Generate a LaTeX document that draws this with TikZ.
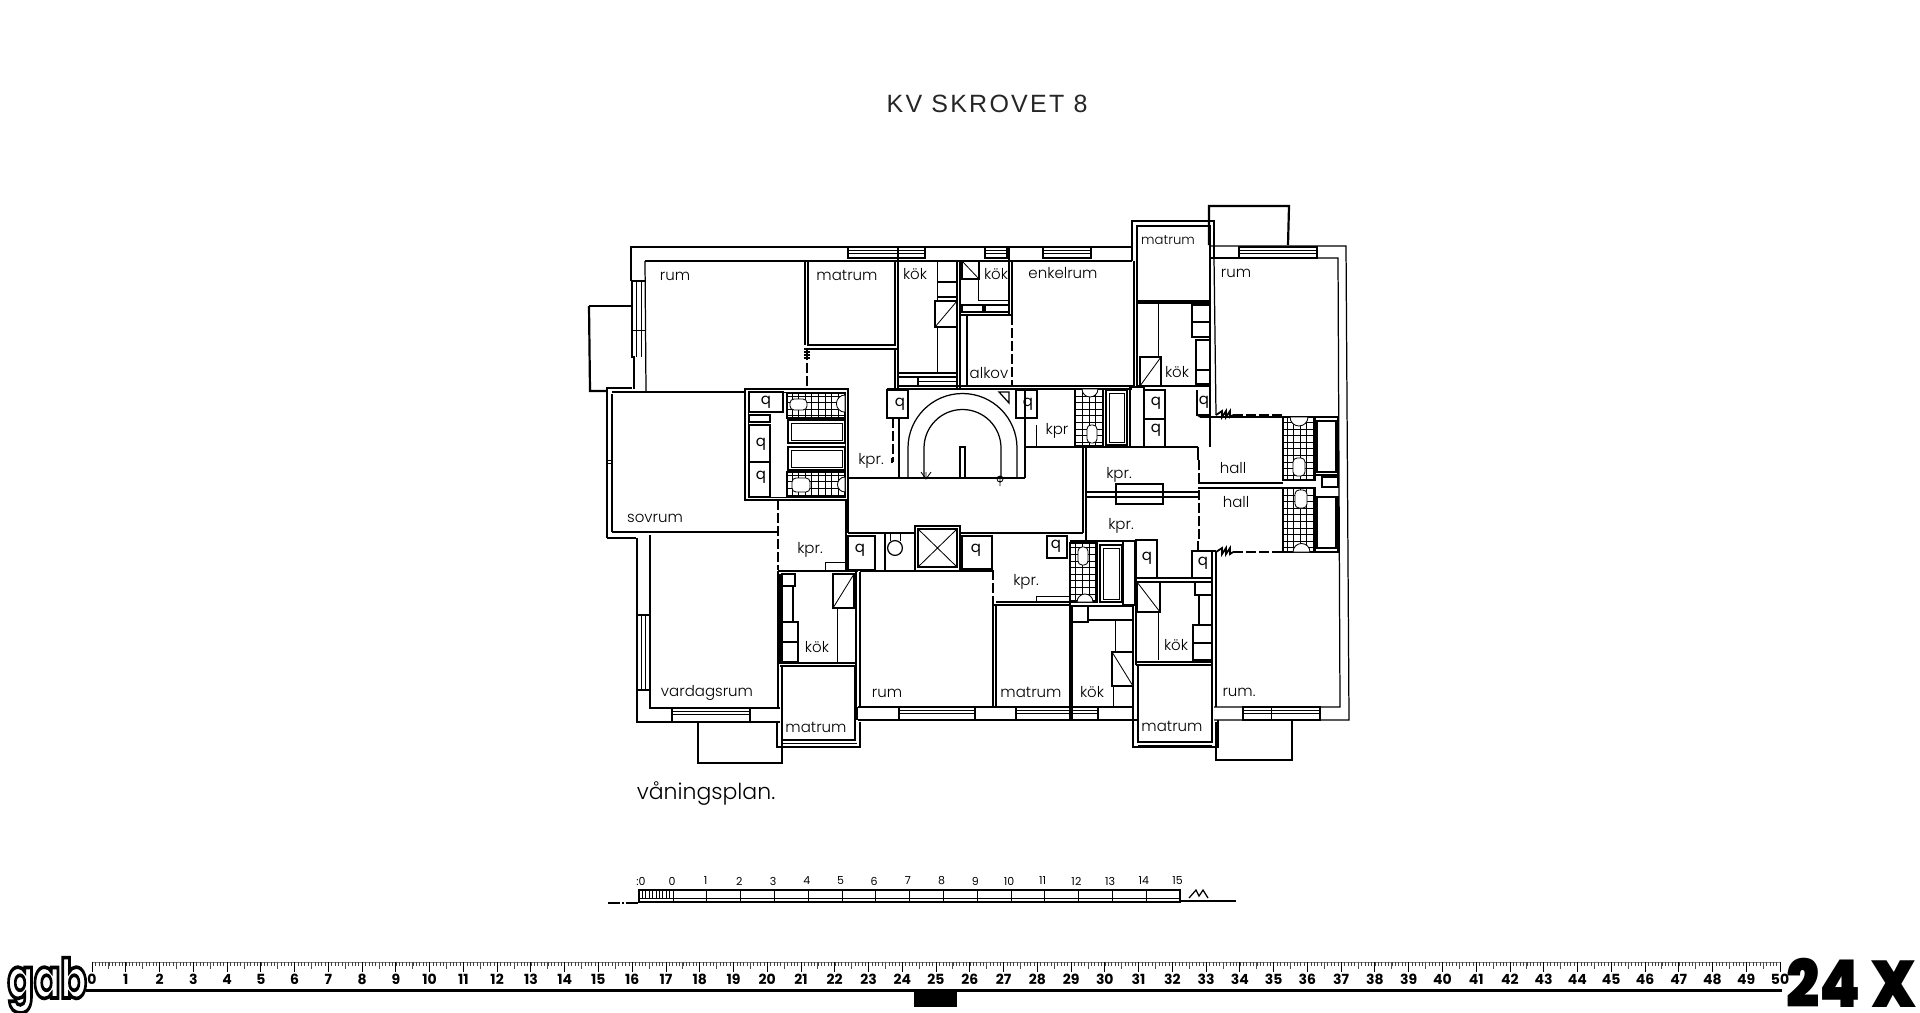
\documentclass[tikz,border=0pt]{standalone}
\usepackage{fontspec}
\setmainfont{Poppins}
\newfontfamily\lightf{Poppins Light}
\newfontfamily\titlef[LetterSpace=9]{Liberation Sans}
\newfontfamily\blackf{Poppins Black}
\newcounter{labc}
\tikzset{
  wall/.style={line width=.62pt,black,line join=miter},
  heavy/.style={line width=1.1pt,black},
  thinl/.style={line width=.42pt,black},
  dash1/.style={line width=.6pt,black,dash pattern=on 5pt off 1.5pt},
  lbl/.style={font=\lightf\fontsize{7.5}{9}\selectfont,inner sep=0pt,text=black},
  qq/.style={font=\fontsize{7.5}{9}\selectfont,inner sep=0pt},
  rul/.style={font=\bfseries\fontsize{7}{8}\selectfont,inner sep=0pt},
  scl/.style={font=\fontsize{5.5}{6}\selectfont,inner sep=0pt},
}
\newcommand{\Lb}[3]{\stepcounter{labc}\node[lbl] (lab\thelabc) at (#1,#2) {#3};}
\newcommand{\Qb}[2]{\stepcounter{labc}\node[qq] (lab\thelabc) at (#1,#2) {q};}
\newcommand{\Bx}[4]{\draw[wall] (#1,#2) rectangle (#3,#4);}
\newcommand{\Tile}[4]{\draw[thinl] (#1,#2) grid[step=3.3pt] (#3,#4); \draw[wall] (#1,#2) rectangle (#3,#4);}
\newcommand{\Tub}[4]{\draw[wall,fill=white] (#1,#2) rectangle (#3,#4);}
\newcommand{\Ovl}[4]{\draw[thinl,fill=white,rounded corners=2pt] (#1,#2) rectangle (#3,#4);}
\newcommand{\Diag}[6]{\draw[wall] (#1,#2) rectangle (#3,#4); \draw[thinl] (#5,#2) -- (#6,#4);}
\newcommand{\Win}[4]{% x1 x2 y-top y-bottom
  \draw[wall] (#1,#3) rectangle (#2,#4);
  \draw[thinl] (#1,{#3+3}) -- (#2,{#3+3}) (#1,{#3+6}) -- (#2,{#3+6});}
\begin{document}
\begin{tikzpicture}[x=.5pt,y=-.5pt]
\useasboundingbox (0,0) rectangle (1920,1012);
\fill[white] (0,0) rectangle (1920,1012);

% ---- title
\stepcounter{labc}\node[inner sep=0pt,font=\titlef\fontsize{12.5}{14}\selectfont,text=black!85] (title) at (987,104) {KV SKROVET 8};

% ---- outer shell
\draw[wall] (631,281) -- (631,247) -- (1132,247);
\draw[wall] (645,261) -- (1132,261);
\draw[wall] (631,281) -- (645,281);
\draw[wall] (632,281) -- (632,357) -- (634,357) -- (634,389);
\draw[thinl] (636,281) -- (636,357) (641,281) -- (641,357) (632,330) -- (645,330);
\draw[wall] (645,261) -- (646,392);
\draw[heavy] (589,306) -- (631,306);
\draw[heavy] (589,306) -- (590,391) -- (606,391);
% top windows
\Win{848}{925}{247}{258}
\Win{985}{1007}{247}{258}
\Win{1043}{1091}{247}{258}
\draw[wall] (1209,246) -- (1346,246) -- (1349,720) -- (1214,720);
\draw[wall] (1214,258) -- (1338,258) -- (1340,707) -- (1214,707);
\draw[wall] (1210,258) -- (1239,258) -- (1239,246);
\Win{1239}{1317}{247}{258}
% top-right balcony
\draw[heavy] (1209,245) -- (1209,206) -- (1289,206) -- (1288,245);
% top-right matrum
\draw[wall] (1137,226) rectangle (1210,301);
\draw[heavy] (1132,261) -- (1132,221) -- (1214,221) -- (1214,258);
\draw[wall] (1214,258) -- (1216,415);
\draw[heavy] (1137,303) -- (1210,303);
% sovrum
\draw[wall] (607,538) -- (607,388) -- (632,388);
\draw[wall] (612,532) -- (612,394);
\draw[heavy] (612,392) -- (746,392);
\draw[wall] (612,532) -- (778,532);
\draw[wall] (607,538) -- (636,538);
\draw[thinl] (607,460) -- (612,460) (607,463) -- (612,463);
% vardagsrum
\draw[wall] (637,538) -- (637,722) -- (780,722);
\draw[wall] (650,535) -- (650,708) -- (780,708);
\draw[wall] (637,690) -- (650,690) (637,615) -- (650,615);
\draw[thinl] (641,615) -- (641,690) (645,615) -- (645,690);
\Win{672}{750}{708}{722}
\draw[wall] (778,571) -- (778,708);
\draw[wall] (782,708) -- (782,722);
% lower left balcony
\draw[heavy] (698,722) -- (698,763) -- (782,763) -- (782,722);
% lower left matrum
\draw[wall] (782,666) rectangle (855,740);
\draw[wall] (777,722) -- (777,747) -- (860,747) -- (860,722);
\draw[thinl] (782,743) -- (857,743);
% lower left kok
\draw[wall] (778,571) -- (858,571);
\draw[wall] (780,574) -- (780,663) -- (856,663);
\draw[wall] (856,572) -- (856,708);
\draw[wall] (860,572) -- (860,707);
\draw[wall] (780,666) -- (856,666);
\Diag{833}{574}{854}{608}{854}{833}
\draw[thinl] (837,608) -- (837,662);
\Bx{782}{574}{795}{586}
\Bx{782}{586}{793}{622}
\Bx{782}{622}{798}{642}
\Bx{782}{642}{798}{662}
% kpr left
\draw[wall] (846,500) -- (846,571);
\draw[wall] (848,500) -- (848,533);
\draw[thinl] (825,571) -- (825,562) -- (846,562);
% mid rum & lower band
\draw[wall] (858,707) -- (1133,707);
\draw[wall] (858,720) -- (1137,720);
\draw[wall] (857,707) -- (857,720) (899,707) -- (899,720);
\Win{899}{975}{707}{720}
\Win{1016}{1070}{707}{720}
\Win{1072}{1098}{707}{720}
\draw[wall] (993,605) -- (993,707);
\draw[wall] (996,605) -- (996,707);
\draw[dash1] (993,570) -- (993,605);
\draw[wall] (860,571) -- (993,571);
\draw[wall] (993,605) -- (1070,605);
\draw[wall] (996,602) -- (1070,602);
\draw[thinl] (1036,602) -- (1036,596) -- (1069,596);
% corridor
\draw[wall] (848,533) -- (915,533);
\draw[wall] (960,533) -- (1083,533);
\draw[wall] (848,478) -- (1025,478);
\draw[wall] (1025,447) -- (1083,447);
\draw[wall] (1083,447) -- (1083,533);
\draw[wall] (1086,447) -- (1086,541);
% lift
\draw[wall] (915,526) rectangle (960,571);
\draw[wall] (918,529) rectangle (957,567);
\draw[thinl] (918,529) -- (957,567) (918,567) -- (957,529);
\Bx{848}{536}{875}{570}
\Bx{962}{536}{992}{569}
\draw[wall] (895,548) circle[radius=3.7pt];
\draw[thinl] (890,533) -- (890,541) (900,533) -- (900,541);
\draw[wall] (885,533) -- (885,571);
\Bx{1047}{536}{1067}{558}
% stair
\draw[wall] (908,478) -- (908,448) arc[start angle=180,end angle=0,radius=27.25pt] -- (1017,478);
\draw[wall] (924,478) -- (924,448) arc[start angle=180,end angle=0,radius=19.25pt] -- (1001,478);
\draw[wall] (899,418) -- (899,478);
\draw[wall] (1025,388) -- (1025,478);
\draw[wall] (960,478) -- (960,447) -- (965,447) -- (965,478);
\draw[thinl] (926,472) -- (926,478) (921,472) -- (926,479) -- (931,472);
\draw[thinl] (1000,479) circle[radius=1.5pt] (1000,476) -- (1000,486);
\draw[wall] (999,392) -- (1009,392) -- (1009,403) -- cycle;
\draw[wall] (887,389) -- (1132,389);
\Bx{887}{390}{908}{418}
\Bx{1016}{390}{1037}{418}
\draw[dash1] (893,418) -- (893,462);
\draw[thinl] (891,462) -- (893,462) (891,462) -- (891,458);
% central-left block
\draw[wall] (745,389) rectangle (848,500);
\draw[thinl] (748,392) rectangle (845,497);
\Bx{749}{392}{783}{412}
\Bx{749}{415}{770}{422}
\Bx{749}{425}{770}{462}
\Bx{749}{462}{770}{497}
\Tile{787}{393}{845}{418}
\Tile{787}{472}{845}{497}
\Tub{788}{420}{845}{443}
\Tub{788}{447}{845}{470}
\draw[thinl] (791,423) rectangle (842,440) (791,450) rectangle (842,467);
\Ovl{790}{399}{807}{410}
\Ovl{792}{478}{810}{492}
\draw[thinl,fill=white] (845,395) arc[start angle=90,end angle=270,radius=4.3pt] -- cycle;
\draw[thinl,fill=white] (845,477) arc[start angle=90,end angle=270,radius=3.75pt] -- cycle;
\draw[dash1] (778,500) -- (778,570);
% rum top-left divider and matrum
\draw[wall] (805,261) -- (805,345);
\draw[wall] (808,261) -- (808,345) -- (895,345) -- (895,261);
\draw[wall] (806,349) -- (897,349);
\draw[wall] (898,247) -- (898,388);
\draw[wall] (895,349) -- (895,388);
\draw[dash1] (807,350) -- (807,388);
\draw[line width=1pt] (804,349) -- (810,349) (804,352) -- (810,352) (804,355) -- (810,355) (804,358) -- (810,358);
% kok top
\draw[wall] (957,261) -- (957,388);
\draw[wall] (960,261) -- (960,388);
\draw[thinl] (937,261) -- (937,301) (937,327) -- (937,373);
\draw[wall] (937,282) -- (957,282) (937,297) -- (957,297);
\Diag{935}{301}{957}{327}{957}{935}
\draw[wall] (899,373) -- (957,373);
\draw[wall] (899,377) -- (957,377);
\draw[wall] (918,377) rectangle (957,386);
\draw[thinl] (918,381) -- (957,381);
\draw[wall] (897,386) -- (1134,386);
% alkov & small kok
\draw[wall] (967,315) -- (967,386);
\draw[wall] (960,315) -- (1012,315);
\draw[dash1] (1012,315) -- (1012,386);
\draw[wall] (1009,247) -- (1009,315) (1012,261) -- (1012,315);
\Diag{962}{261}{979}{279}{962}{979}
\draw[thinl] (978,279) -- (978,300) -- (1009,300);
\Bx{962}{305}{983}{312}
\Bx{985}{305}{1009}{312}
% enkelrum right
\draw[wall] (1134,261) -- (1134,386);
\draw[wall] (1137,226) -- (1137,386);
% right kok
\draw[wall] (1137,386) -- (1210,386);
\draw[wall] (1210,258) -- (1210,447);
\Diag{1140}{357}{1161}{386}{1161}{1140}
\draw[thinl] (1158,303) -- (1158,357);
\Bx{1192}{305}{1210}{322}
\Bx{1192}{322}{1210}{337}
\Bx{1196}{340}{1210}{370}
\Bx{1196}{370}{1210}{384}
% central right block
\draw[thinl] (1036,425) -- (1036,447);
\draw[wall] (1025,447) -- (1130,447);
\Tile{1075}{389}{1103}{446}
\draw[wall] (1106,390) rectangle (1127,445);
\draw[thinl] (1109,393) rectangle (1124,442);
\draw[thinl,fill=white] (1082,389) arc[start angle=180,end angle=360,radius=4pt] -- cycle;
\Ovl{1087}{425}{1097}{443}
\draw[wall] (1130,387) rectangle (1144,447);
\Bx{1144}{390}{1165}{419}
\Bx{1144}{419}{1165}{447}
\draw[wall] (1144,447) -- (1198,447);
\draw[wall] (1197,390) -- (1197,415) -- (1210,415);
\draw[wall] (1197,415) -- (1200,417);
\draw[wall] (1200,417) -- (1283,417);
% kpr mid-right
\draw[wall] (1198,447) -- (1198,460);
\draw[dash1] (1199,460) -- (1199,483);
\draw[wall] (1085,492) -- (1198,492) (1085,497) -- (1198,497);
\draw[wall] (1116,484) rectangle (1163,504);
\draw[wall] (1198,483) -- (1283,483) (1198,488) -- (1283,488);
\draw[dash1] (1199,490) -- (1199,541);
\draw[wall] (1198,541) -- (1198,551) -- (1216,551);
\draw[wall] (1070,541) -- (1122,541);
% right dashed
\draw[dash1] (1233,415) -- (1283,415);
\draw[dash1] (1233,552) -- (1283,552);
\draw[line width=.9pt] (1216,415) -- (1222,411) -- (1222,417) -- (1226,411) -- (1226,417) -- (1230,411) -- (1230,417) -- (1233,415);
\draw[line width=.9pt] (1216,552) -- (1222,548) -- (1222,554) -- (1226,548) -- (1226,554) -- (1230,548) -- (1230,554) -- (1233,552);
% right baths
\Tile{1283}{417}{1315}{480}
\Tile{1283}{488}{1315}{552}
\draw[wall] (1315,417) rectangle (1338,475);
\draw[wall] (1317,421) rectangle (1336,472);
\draw[wall] (1315,497) rectangle (1338,552);
\draw[wall] (1317,497) rectangle (1336,548);
\Bx{1322}{477}{1338}{487}
\draw[thinl,fill=white] (1290,417) arc[start angle=180,end angle=360,radius=4.5pt] -- cycle;
\Ovl{1293}{458}{1305}{476}
\Ovl{1295}{490}{1307}{508}
\draw[thinl,fill=white] (1293,552) arc[start angle=180,end angle=0,radius=4.25pt] -- cycle;
% mid-lower bath
\Tile{1070}{543}{1097}{602}
\draw[wall] (1100,545) rectangle (1122,602);
\draw[thinl] (1103,548) rectangle (1119,599);
\Ovl{1078}{547}{1088}{565}
\draw[thinl,fill=white] (1077,602) arc[start angle=180,end angle=0,radius=4pt] -- cycle;
\draw[wall] (1123,541) rectangle (1135,605);
\Bx{1136}{540}{1157}{578}
\Bx{1192}{551}{1212}{578}
% lower right kok
\draw[wall] (1136,578) -- (1212,578);
\draw[wall] (1136,582) -- (1212,582);
\Diag{1137}{582}{1160}{612}{1137}{1160}
\draw[thinl] (1158,612) -- (1158,660);
\draw[wall] (1136,578) -- (1136,665);
\draw[wall] (1133,605) -- (1133,722);
\draw[wall] (1136,662) -- (1212,662) (1136,665) -- (1212,665);
\Bx{1195}{582}{1212}{595}
\Bx{1199}{595}{1212}{625}
\Bx{1193}{625}{1212}{643}
\Bx{1193}{643}{1212}{660}
\draw[wall] (1212,552) -- (1212,707);
\draw[wall] (1216,552) -- (1216,707);
% lower right matrum
\draw[wall] (1138,665) rectangle (1212,742);
\draw[wall] (1133,722) -- (1133,747) -- (1218,747) -- (1218,720);
\draw[thinl] (1138,745) -- (1212,745);
\draw[heavy] (1216,722) -- (1216,760) -- (1292,760) -- (1292,720);
\Win{1243}{1320}{707}{720}
\draw[thinl] (1271,707) -- (1271,720);
% lower middle kok
\Bx{1072}{606}{1088}{622}
\Bx{1088}{606}{1133}{620}
\draw[thinl] (1115,620) -- (1115,652);
\Diag{1112}{652}{1133}{686}{1112}{1133}
\draw[wall] (1070,602) -- (1070,707) (1072,622) -- (1072,707);
\draw[thinl] (1113,686) -- (1113,707);

% ---- labels
\Lb{675}{276}{rum}
\Lb{847}{275}{matrum}
\Lb{915}{274}{kök}
\Lb{871}{461}{kpr.}
\Lb{655}{518}{sovrum}
\Lb{996}{274}{kök}
\Lb{1063}{273}{enkelrum}
\Lb{989}{373}{alkov}
\Lb{1168}{240}{\scalebox{.88}{matrum}}
\Lb{1236}{273}{rum}
\Lb{1177}{372}{kök}
\Lb{1057}{431}{kpr}
\Lb{1119}{475}{kpr.}
\Lb{1233}{468}{hall}
\Lb{1236}{502}{hall}
\Lb{1121}{526}{kpr.}
\Lb{810}{550}{kpr.}
\Lb{817}{647}{kök}
\Lb{707}{693}{vardagsrum}
\Lb{887}{693}{rum}
\Lb{816}{727}{matrum}
\Lb{706}{794}{\fontsize{11}{13}\selectfont våningsplan.}
\Lb{1026}{582}{kpr.}
\Lb{1031}{692}{matrum}
\Lb{1092}{692}{kök}
\Lb{1176}{645}{kök}
\Lb{1239}{692}{rum.}
\Lb{1172}{726}{matrum}
\Qb{766}{402}\Qb{761}{444}\Qb{761}{477}
\Qb{900}{404}\Qb{1028}{404}
\Qb{1156}{403}\Qb{1156}{430}\Qb{1204}{402}
\Qb{976}{550}\Qb{1056}{546}\Qb{1147}{558}\Qb{1203}{563}\Qb{860}{550}

% ---- small scale
\draw[wall] (639,890) rectangle (1180,902);
\draw[thinl] (639,898) -- (1180,898);
\foreach \i in {1,...,9} {\draw[thinl] ({639+\i*3.4},890) -- ({639+\i*3.4},898);}
\foreach \i in {0,...,15} {\draw[thinl] ({673+\i*33.8},890) -- ({673+\i*33.8},902);}
\draw[wall,dash pattern=on 6pt off 1pt on 1pt off 1pt] (608,903) -- (639,903);
\draw[wall] (1180,901) -- (1236,901);
\draw[wall] (1189,898) -- (1196,890) -- (1199,896) -- (1203,890) -- (1208,898);
\stepcounter{labc}\node[scl] (scA) at (641,881) {:0};
\foreach \i in {0,...,15} {\node[scl] (sc\i) at ({672+\i*33.7},881) {\i};}

% ---- bottom ruler
\draw[thinl,gray] (92,962) -- (1780,962);
\foreach \i in {0,...,499} {\draw[line width=.22pt,black!75] ({92+\i*3.376},962) -- ({92+\i*3.376},966);}
\foreach \i in {0,...,49} {\draw[thinl,black!70] ({108.9+\i*33.76},962) -- ({108.9+\i*33.76},969);}
\foreach \i in {0,...,50} {
  \draw[thinl] ({92+\i*33.76},962) -- ({92+\i*33.76},972);
  \node[rul] (ru\i) at ({92+\i*33.76},979) {\i};
}
\draw[line width=1.8pt] (86,990.5) -- (1782,990.5);
\fill[black] (914,990) rectangle (957,1007);

% ---- logo and magnification
\node[inner sep=0pt,anchor=base west] (logo) at (7,998)
  {\fontsize{39}{39}\selectfont\bfseries\scalebox{.5}[.7]{\special{pdf:code 1 Tr 2.6 w}gab\special{pdf:code 0 Tr}}};
\node[inner sep=0pt,anchor=base west] (mag) at (1786,1007)
  {\blackf\fontsize{33}{33}\selectfont\scalebox{.89}[1]{24 X}};
\end{tikzpicture}
\end{document}
